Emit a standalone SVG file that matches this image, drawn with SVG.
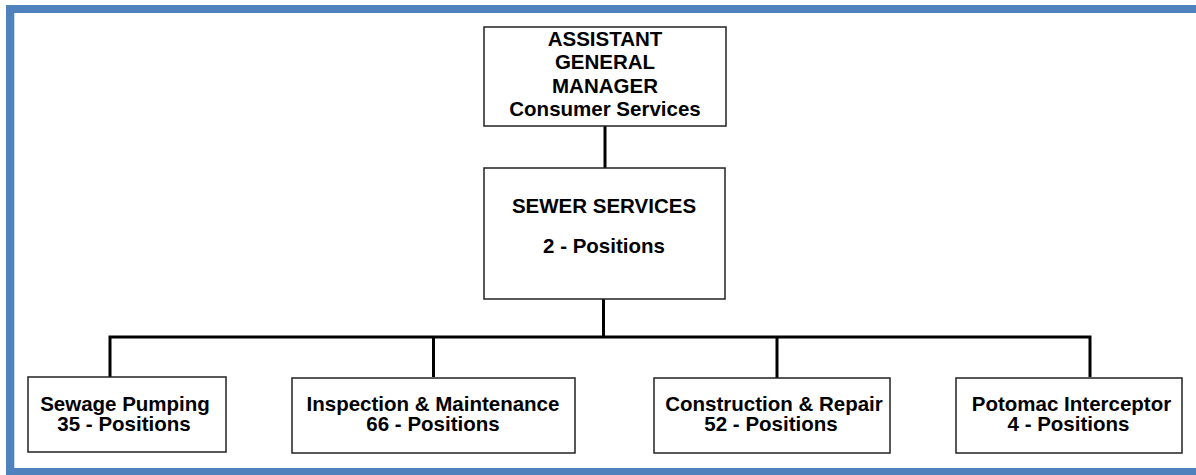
<svg xmlns="http://www.w3.org/2000/svg" width="1196" height="475" viewBox="0 0 1196 475">
<style>
.box{fill:#fff;stroke:#222;stroke-width:1.5}
.t{font-family:"Liberation Sans",Arial,sans-serif;font-weight:bold;font-size:20.5px;fill:#000;text-anchor:middle}
.c{fill:none;stroke:#000;stroke-width:3}
</style>
<rect x="0" y="0" width="1196" height="475" fill="#fff"/>
<rect x="10" y="9" width="1200" height="463" fill="none" stroke="#4F81BD" stroke-width="8"/>
<line x1="14.5" y1="13" x2="14.5" y2="468" stroke="#C6D9F1" stroke-width="1"/>
<g id="connectors">
<line class="c" x1="605" y1="126" x2="605" y2="168"/>
<line class="c" x1="603.5" y1="299" x2="603.5" y2="337"/>
<polyline class="c" points="110,377 110,337 1090,337 1090,377"/>
<line class="c" x1="433.5" y1="337" x2="433.5" y2="377"/>
<line class="c" x1="777" y1="337" x2="777" y2="378"/>
</g>
<g id="agm">
<rect class="box" x="484" y="27" width="242" height="99"/>
<text class="t" x="605" y="46">ASSISTANT</text>
<text class="t" x="605" y="69">GENERAL</text>
<text class="t" x="605" y="93">MANAGER</text>
<text class="t" x="605" y="115.5">Consumer Services</text>
</g>
<g id="sewer">
<rect class="box" x="484" y="168" width="241" height="131"/>
<text class="t" x="604" y="213">SEWER SERVICES</text>
<text class="t" x="604" y="253">2 - Positions</text>
</g>
<g id="pumping">
<rect class="box" x="28" y="377" width="198" height="75"/>
<text class="t" x="125" y="411">Sewage Pumping</text>
<text class="t" x="124" y="431">35 - Positions</text>
</g>
<g id="inspection">
<rect class="box" x="292" y="378" width="283" height="75"/>
<text class="t" x="433" y="411">Inspection &amp; Maintenance</text>
<text class="t" x="433" y="431">66 - Positions</text>
</g>
<g id="construction">
<rect class="box" x="654" y="378" width="236" height="75"/>
<text class="t" x="774" y="411">Construction &amp; Repair</text>
<text class="t" x="771" y="431">52 - Positions</text>
</g>
<g id="potomac">
<rect class="box" x="956" y="378" width="226" height="75"/>
<text class="t" x="1071.5" y="411">Potomac Interceptor</text>
<text class="t" x="1068.5" y="431">4 - Positions</text>
</g>
</svg>
